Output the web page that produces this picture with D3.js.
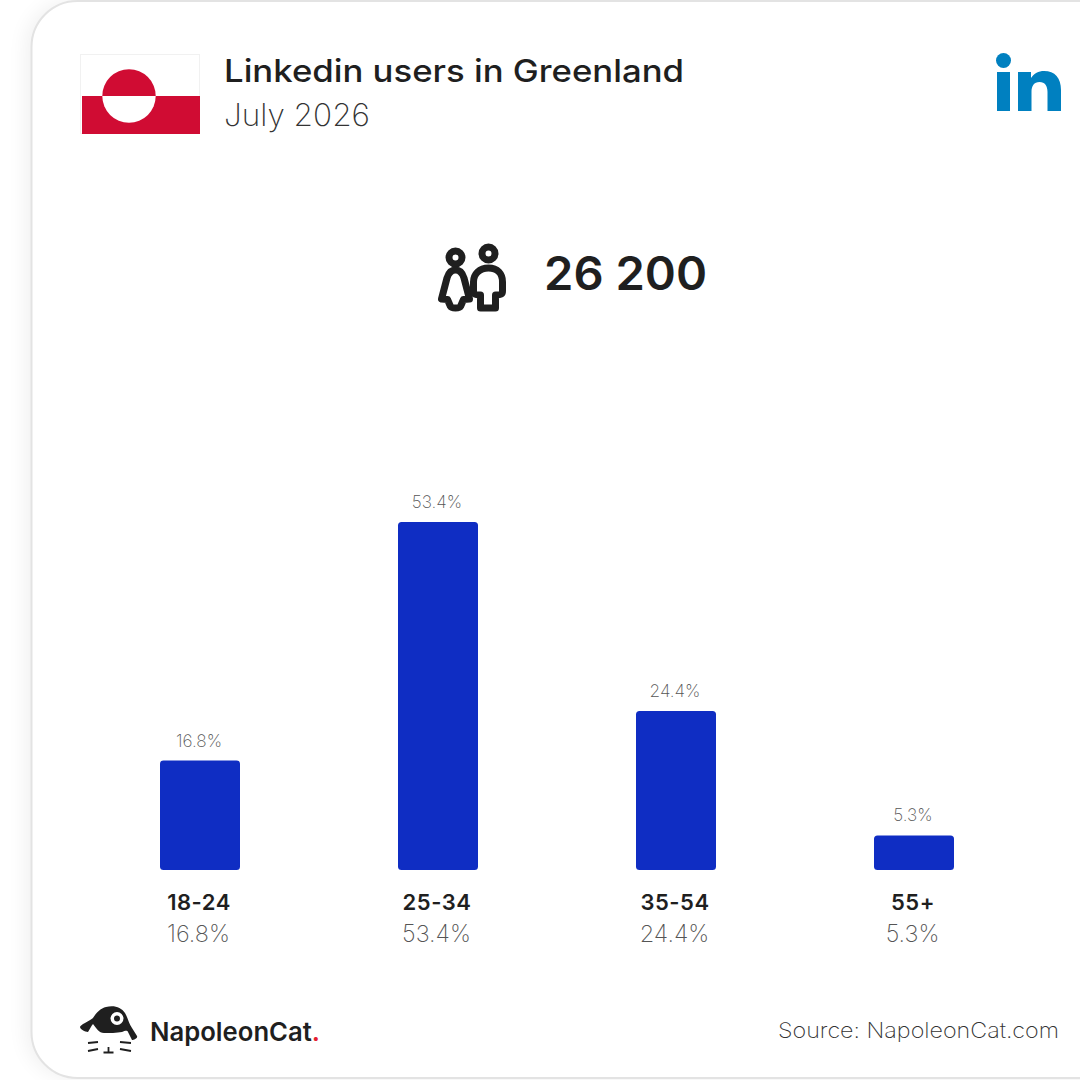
<!DOCTYPE html>
<html>
<head>
<meta charset="utf-8">
<script src="https://cdn.jsdelivr.net/npm/d3@7"></script>
<style>
html, body { margin: 0; padding: 0; background: #fff; overflow: hidden; }
text { font-family: Inter, "Open Sans", sans-serif; }
</style>
</head>
<body>
<svg id="chart" width="1080" height="1080"></svg>
<script>
// Data
const ageGroups = ["18-24", "25-34", "35-54", "55+"];
const shares = [16.8, 53.4, 24.4, 5.3];
const titleText = "Linkedin users in Greenland";
const dateText = "July 2026";
const totalUsers = "26 200";
const sourceText = "Source: NapoleonCat.com";

const svg = d3.select("#chart");
const dark = "#1f1f1f";

const defs = svg.append("defs");
const blur = defs.append("filter").attr("id", "soft")
    .attr("x", "-10%").attr("y", "-10%").attr("width", "120%").attr("height", "120%");
blur.append("feGaussianBlur").attr("stdDeviation", 10);

// Card
svg.append("rect").attr("x", 26).attr("y", 1).attr("width", 1120).attr("height", 1077)
    .attr("rx", 46).attr("fill", "#000").attr("opacity", 0.06).attr("filter", "url(#soft)");
svg.append("rect").attr("x", 31.5).attr("y", 1).attr("width", 1120).attr("height", 1077)
    .attr("rx", 46).attr("fill", "#fff").attr("stroke", "#e3e3e3").attr("stroke-width", 2);

// Flag
const flag = svg.append("g");
flag.append("rect").attr("x", 80.5).attr("y", 54.5).attr("width", 119).attr("height", 79)
    .attr("fill", "#fff").attr("stroke", "#f1f1f1");
flag.append("rect").attr("x", 82).attr("y", 96).attr("width", 118).attr("height", 38).attr("fill", "#d00c33");
const halfDisc = d3.arc().innerRadius(0).outerRadius(26.7);
flag.append("path").attr("transform", "translate(129,96)").attr("fill", "#d00c33")
    .attr("d", halfDisc({ startAngle: -Math.PI / 2, endAngle: Math.PI / 2 }));
flag.append("path").attr("transform", "translate(129,96)").attr("fill", "#fff")
    .attr("d", halfDisc({ startAngle: Math.PI / 2, endAngle: Math.PI * 1.5 }));

// Header
svg.append("text").attr("x", 224).attr("y", 82).attr("font-size", 31).attr("font-weight", 550)
    .attr("fill", dark).attr("textLength", 460).attr("lengthAdjust", "spacingAndGlyphs").text(titleText);
svg.append("text").attr("x", 224).attr("y", 126).attr("font-size", 31).attr("font-weight", 200)
    .attr("fill", "#333").attr("textLength", 146).attr("lengthAdjust", "spacingAndGlyphs").text(dateText);

// LinkedIn mark
const inMark = svg.append("g").attr("fill", "#0080c0");
inMark.append("circle").attr("cx", 1003.5).attr("cy", 60.5).attr("r", 7.5);
inMark.append("rect").attr("x", 997).attr("y", 72).attr("width", 13).attr("height", 39);
inMark.append("path").attr("d", "M1018 72h13v6c3-4.500 7.500-7 13-7 11 0 17 7 17 19v21h-13.500v-19c0-6-2.500-10-8-10-5.500 0-8 4-8 10v19h-13.500z");

// People icon
const people = svg.append("g").attr("fill", "none").attr("stroke", dark)
    .attr("stroke-width", 7).attr("stroke-linejoin", "round").attr("stroke-linecap", "round");
people.append("circle").attr("cx", 455.500).attr("cy", 257.500).attr("r", 6.500);
people.append("path").attr("d", "M455.500 270c-5 0-7 3-8.500 8l-5.500 21 6 .5 3 7c1 2 9 2 10 0l3-7 6-.5-5.500-21c-1.500-5-3.500-8-8.500-8z");
people.append("circle").attr("cx", 488.500).attr("cy", 253.500).attr("r", 6.500);
people.append("path").attr("d", "M488.500 268c-9 0-15 6-15 14v9c0 3 1 4 7 4v13h15v-13c6 0 7-1 7-4v-9c0-8-5-14-14-14z");

// Total
svg.append("text").attr("x", 544).attr("y", 290).attr("font-size", 46).attr("font-weight", 600)
    .attr("fill", dark).attr("textLength", 163).attr("lengthAdjust", "spacingAndGlyphs").text(totalUsers);

// Bars
const x = d3.scaleBand().domain(ageGroups).range([160, 954]).paddingInner(158 / 238).paddingOuter(0);
const y = d3.scaleLinear().domain([0, 53.4]).range([870, 522]);
const rows = ageGroups.map((g, i) => ({ group: g, share: shares[i] }));

svg.append("g").selectAll("rect").data(rows).join("rect")
    .attr("x", d => x(d.group))
    .attr("y", d => y(d.share))
    .attr("width", x.bandwidth())
    .attr("height", d => y(0) - y(d.share))
    .attr("rx", 3.500)
    .attr("fill", "#0f2dc3");

svg.append("g").selectAll("text").data(rows).join("text")
    .attr("x", d => x(d.group) + x.bandwidth() / 2 - 1)
    .attr("y", d => y(d.share) - 14)
    .attr("text-anchor", "middle")
    .attr("font-size", 17.200).attr("font-weight", 200).attr("fill", "#555")
    .text(d => d.share.toFixed(1) + "%");

// Category labels
const axisFn = d3.axisBottom(x).tickSize(0).tickPadding(0);
const axisG = svg.append("g").attr("transform", "translate(-1,870)").call(axisFn);
axisG.select(".domain").remove();
axisG.selectAll("text").attr("y", 40).attr("dy", 0)
    .attr("font-size", 22).attr("font-weight", 600).attr("fill", dark)
    .attr("letter-spacing", 0.500)
    .style("font-family", "Inter, sans-serif");

svg.append("g").selectAll("text").data(rows).join("text")
    .attr("x", d => x(d.group) + x.bandwidth() / 2 - 1.500)
    .attr("y", 942)
    .attr("text-anchor", "middle")
    .attr("font-size", 23.500).attr("font-weight", 200).attr("fill", "#555")
    .text(d => d.share.toFixed(1) + "%");

// Logo
const logo = svg.append("g").attr("fill", dark);
logo.append("path").attr("d", "M80 1027c0-2 9-6 13-9 3-5 8-10 13-11 8-2 15 0 19 6 3 5 4 11 7 15l5 8c1 2-3 4-5 4l-4-8c-1-2-3-1-6 0-5 1-13 1-18 1-5 0-8-5-11-9-2 2-3 5-5 8-3 0-8-3-8-5z");
logo.append("circle").attr("cx", 117).attr("cy", 1018.500).attr("r", 6.500).attr("fill", "#fff");
logo.append("circle").attr("cx", 117).attr("cy", 1018.500).attr("r", 3);
logo.append("path").attr("fill", "none").attr("stroke", dark).attr("stroke-width", 1.800)
    .attr("d", "M88 1043l10-1M88 1051l10-2M120 1042l11 1M120 1049l11 2M108.500 1047v6M103.500 1052.500h10");
const logoText = svg.append("text").attr("x", 150).attr("y", 1041).attr("font-size", 26).attr("font-weight", 600)
    .attr("fill", dark).attr("textLength", 170).attr("lengthAdjust", "spacingAndGlyphs");
logoText.append("tspan").text("NapoleonCat");
logoText.append("tspan").attr("fill", "#e5202e").text(".");

// Source
svg.append("text").attr("x", 778).attr("y", 1038)
    .attr("font-size", 21).attr("font-weight", 200).attr("fill", "#333")
    .attr("textLength", 281).attr("lengthAdjust", "spacingAndGlyphs").text(sourceText);
</script>
</body>
</html>
